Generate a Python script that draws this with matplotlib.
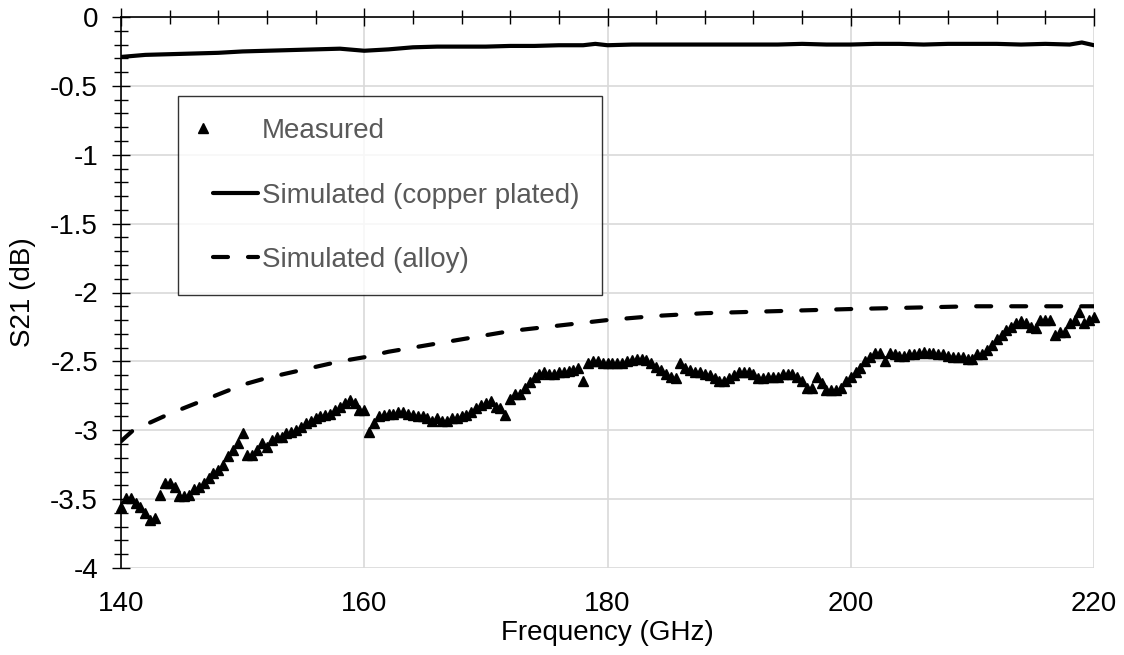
import numpy as np
import matplotlib
matplotlib.use("Agg")
import matplotlib.pyplot as plt
from matplotlib.ticker import MultipleLocator, FuncFormatter
from matplotlib.legend_handler import HandlerLine2DCompound
from matplotlib.lines import Line2D

plt.rcParams['font.family'] = ['Liberation Sans', 'DejaVu Sans']
plt.rcParams['axes.unicode_minus'] = False

# ---- data ----
meas_start = 140.0
meas_step = 0.4
measured = [
    -3.56, -3.49, -3.49, -3.53, -3.56, -3.60, -3.65, -3.64, -3.47, -3.38,
    -3.38, -3.41, -3.48, -3.48, -3.47, -3.43, -3.41, -3.38, -3.35, -3.31,
    -3.29, -3.25, -3.19, -3.14, -3.09, -3.02, -3.18, -3.18, -3.14, -3.09,
    -3.12, -3.07, -3.05, -3.05, -3.02, -3.01, -3.00, -2.98, -2.95, -2.93,
    -2.91, -2.90, -2.89, -2.88, -2.85, -2.83, -2.80, -2.78, -2.80, -2.85,
    -2.85, -3.01, -2.95, -2.90, -2.89, -2.88, -2.88, -2.87, -2.87, -2.88,
    -2.89, -2.90, -2.90, -2.91, -2.93, -2.91, -2.93, -2.93, -2.91, -2.91,
    -2.90, -2.89, -2.87, -2.84, -2.82, -2.80, -2.79, -2.83, -2.84, -2.89,
    -2.77, -2.74, -2.74, -2.69, -2.65, -2.61, -2.59, -2.58, -2.59, -2.59,
    -2.58, -2.58, -2.57, -2.56, -2.55, -2.64, -2.51, -2.50, -2.50, -2.51,
    -2.51, -2.51, -2.51, -2.51, -2.50, -2.49, -2.48, -2.48, -2.49, -2.51,
    -2.54, -2.56, -2.59, -2.61, -2.62, -2.51, -2.55, -2.56, -2.58, -2.58,
    -2.59, -2.60, -2.62, -2.64, -2.64, -2.62, -2.60, -2.58, -2.58, -2.58,
    -2.59, -2.62, -2.62, -2.61, -2.61, -2.61, -2.59, -2.59, -2.59, -2.61,
    -2.64, -2.69, -2.69, -2.61, -2.66, -2.71, -2.71, -2.71, -2.69, -2.64,
    -2.61, -2.58, -2.55, -2.50, -2.47, -2.44, -2.44, -2.50, -2.44, -2.45,
    -2.46, -2.46, -2.45, -2.45, -2.44, -2.43, -2.44, -2.44, -2.45, -2.45,
    -2.46, -2.47, -2.47, -2.47, -2.48, -2.48, -2.45, -2.45, -2.42, -2.38,
    -2.34, -2.31, -2.27, -2.25, -2.22, -2.21, -2.22, -2.25, -2.26, -2.20,
    -2.20, -2.20, -2.31, -2.29, -2.29, -2.22, -2.20, -2.14, -2.22, -2.20,
    -2.18,
]
meas_freq = np.round(meas_start + meas_step * np.arange(len(measured)), 2)

copper_freq = [140, 142, 144, 146, 148, 150, 152, 154, 156, 158, 160, 162, 164,
               166, 168, 170, 172, 174, 176, 178, 179, 180, 182, 184, 186, 188,
               190, 192, 194, 196, 198, 200, 202, 204, 206, 208, 210, 212, 214,
               216, 218, 219, 220]
copper = [-0.29, -0.275, -0.27, -0.265, -0.26, -0.25, -0.245, -0.24, -0.235,
          -0.23, -0.245, -0.235, -0.22, -0.215, -0.215, -0.215, -0.21, -0.21,
          -0.205, -0.205, -0.195, -0.205, -0.2, -0.2, -0.2, -0.2, -0.2, -0.2,
          -0.2, -0.195, -0.2, -0.2, -0.195, -0.195, -0.2, -0.195, -0.195,
          -0.195, -0.2, -0.195, -0.2, -0.185, -0.205]

alloy_freq = [140, 141, 142, 144, 146, 148, 150, 152, 154, 156, 158, 160, 162,
              164, 166, 168, 170, 172, 174, 176, 178, 180, 184, 188, 192, 196,
              200, 205, 210, 215, 220]
alloy = [-3.08, -3.0, -2.96, -2.88, -2.81, -2.74, -2.67, -2.62, -2.58, -2.54,
         -2.5, -2.47, -2.43, -2.40, -2.37, -2.34, -2.31, -2.28, -2.26, -2.24,
         -2.22, -2.20, -2.17, -2.15, -2.14, -2.13, -2.12, -2.11, -2.10, -2.10,
         -2.10]

labels = ["Measured", "Simulated (copper plated)", "Simulated (alloy)"]
x_label = "Frequency (GHz)"
y_label = "S21 (dB)"

# ---- figure ----
fig = plt.figure(figsize=(11.24, 6.55), dpi=100)
ax = fig.add_axes([121/1124, 1 - 568/655, (1094-121)/1124, (568-17)/655])

FS = 20
grid_c = "#d9d9d9"

ax.plot(meas_freq, measured, linestyle='none', marker='^', markersize=7.5,
        color='black', label=labels[0], zorder=3, clip_on=False)
ax.plot(copper_freq, copper, color='black', linewidth=3.0, label=labels[1],
        solid_capstyle='round', zorder=3)
ax.plot(alloy_freq, alloy, color='black', linewidth=3.0, linestyle=(0, (3.6, 4.8)),
        dash_capstyle='round', label=labels[2], zorder=3)

ax.set_xlim(140, 220)
ax.set_ylim(-4, 0)

ax.xaxis.set_major_locator(MultipleLocator(20))
ax.xaxis.set_minor_locator(MultipleLocator(4))
ax.yaxis.set_major_locator(MultipleLocator(0.5))
ax.yaxis.set_minor_locator(MultipleLocator(0.1))
ax.yaxis.set_major_formatter(FuncFormatter(lambda v, p: "%g" % v))

ax.grid(True, which='major', color=grid_c, linewidth=1.2, zorder=0)
ax.set_axisbelow(True)

for s in ['bottom', 'right']:
    ax.spines[s].set_visible(False)
ax.spines['top'].set_linewidth(1.2)
ax.spines['left'].set_linewidth(1.2)

ax.tick_params(axis='x', which='both', bottom=False, top=True,
               labelbottom=True, labeltop=False, direction='inout',
               labelsize=FS, width=1.0)
ax.tick_params(axis='x', which='major', length=13, pad=10)
ax.tick_params(axis='x', which='minor', length=9.5)
ax.tick_params(axis='y', which='both', direction='inout', labelsize=FS, width=1.0)
ax.tick_params(axis='y', which='major', length=13, pad=10)
ax.tick_params(axis='y', which='minor', length=9.5)

ax.set_xlabel(x_label, fontsize=FS, labelpad=2)
ax.set_ylabel(y_label, fontsize=FS, labelpad=10)


class OffsetHandler(HandlerLine2DCompound):
    def get_xdata(self, legend, xdescent, ydescent, width, height, fontsize):
        xdata = np.array([-xdescent + 0.22 * width, -xdescent + width])
        xmark = np.array([-xdescent + 0.05 * width])
        return xdata, xmark


leg = ax.legend(loc='upper left', bbox_to_anchor=(57/973, (568-96)/551),
                borderaxespad=0, fontsize=FS, frameon=True, fancybox=False,
                edgecolor='black', handlelength=2.08, handletextpad=0.15,
                borderpad=0.8, labelspacing=1.38, numpoints=1,
                handler_map={Line2D: OffsetHandler()})
leg.get_frame().set_linewidth(1.0)
for t in leg.get_texts():
    t.set_color('#595959')

fig.savefig("out.png", dpi=100)
